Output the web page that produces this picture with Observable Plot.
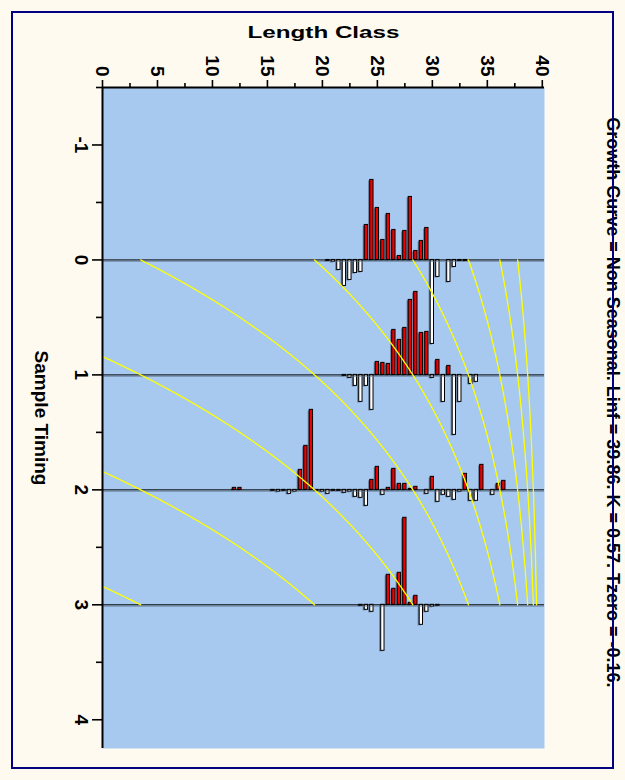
<!DOCTYPE html>
<html>
<head>
<meta charset="utf-8">
<script src="https://cdn.jsdelivr.net/npm/d3@7"></script>
<script src="https://cdn.jsdelivr.net/npm/@observablehq/plot@0.6"></script>
<style>
  html, body { margin: 0; padding: 0; background: #fffaf0; }
  #chart { position: relative; width: 625px; height: 780px; overflow: hidden; background: #fffaf0; }
  #border { position: absolute; left: 11px; top: 11px; width: 599px; height: 754px;
            border: 2px solid #000080; pointer-events: none; }
</style>
</head>
<body>
<div id="chart"><div id="border"></div></div>
<script>
// Von Bertalanffy growth parameters (non seasonal)
const Linf = 39.86;
const K = 0.57;
const tZero = -0.16;

// Sample timings (years) of the four length-frequency samples
const sampleTimes = [0, 1, 2, 3];

// Restructured length-frequency scores per sample (positive = peaks, negative = troughs)
const lengths0 = [20.5, 21, 21.5, 22, 22.5, 23, 23.5, 24, 24.5, 25, 25.5, 26, 26.5, 27, 27.5, 28, 28.5, 29, 29.5, 30, 30.5, 31.5, 32, 32.5, 33];
const scores0  = [-0.01, -0.02, -0.10, -0.26, -0.20, -0.13, -0.12, 0.35, 0.80, 0.52, 0.20, 0.46, 0.30, 0.04, 0.29, 0.63, 0.09, 0.19, 0.32, -0.84, -0.17, -0.22, -0.07, -0.01, -0.01];

const lengths1 = [22, 22.5, 23, 23.5, 24, 24.5, 25, 25.5, 26, 26.5, 27, 27.5, 28, 28.5, 29, 29.5, 30, 30.5, 31, 31.5, 32, 32.5, 33.5, 34];
const scores1  = [-0.01, -0.03, -0.11, -0.27, -0.11, -0.35, 0.13, 0.12, 0.11, 0.45, 0.35, 0.47, 0.75, 0.83, 0.42, 0.43, -0.03, 0.15, -0.27, 0.09, -0.60, -0.27, -0.09, -0.07];

const lengths2 = [12, 12.5, 15.5, 16, 16.5, 17, 17.5, 18, 18.5, 19, 19.5, 20, 20.5, 21, 21.5, 22, 22.5, 23, 23.5, 24, 24.5, 25, 25.5, 26, 26.5, 27, 27.5, 28, 28.5, 29.5, 30, 30.5, 31, 31.5, 32, 32.5, 33, 33.5, 34, 34.5, 35.5, 36, 36.5];
const scores2  = [0.02, 0.02, -0.01, -0.02, -0.01, -0.04, -0.02, 0.20, 0.44, 0.80, -0.01, -0.02, -0.04, -0.01, -0.01, -0.03, -0.02, -0.07, -0.08, -0.16, 0.10, 0.23, -0.05, 0.02, 0.21, 0.06, 0.06, 0.01, 0.03, -0.04, 0.13, -0.12, -0.05, -0.07, -0.10, -0.02, 0.16, -0.11, -0.11, 0.25, -0.05, 0.06, 0.09];

const lengths3 = [23.5, 24, 24.5, 25.5, 26, 26.5, 27, 27.5, 28, 28.5, 29, 29.5, 30, 30.5];
const scores3  = [-0.01, -0.05, -0.07, -0.46, 0.30, 0.16, 0.32, 0.87, 0.02, 0.09, -0.20, -0.07, -0.02, -0.01];

// Axis ticks
const lengthTicks = [0, 5, 10, 15, 20, 25, 30, 35, 40];
const lengthMinorTicks = [2.5, 7.5, 12.5, 17.5, 22.5, 27.5, 32.5, 37.5];
const timeTicks = [-1, 0, 1, 2, 3, 4];
const timeMinorTicks = [-1.5, -0.5, 0.5, 1.5, 2.5, 3.5];

// Cohorts (year offsets) traced by the growth curve
const cohorts = [3, 2, 1, 0, -1, -2, -3, -4, -5];

const xDomain = [0, 40.2];
const yDomain = [-1.5, 4.25];
const barScale = 0.87;   // timing units per unit score
const barHalf = 0.15;    // half bar width in length units

const samples = [
  {t: sampleTimes[0], L: lengths0, s: scores0},
  {t: sampleTimes[1], L: lengths1, s: scores1},
  {t: sampleTimes[2], L: lengths2, s: scores2},
  {t: sampleTimes[3], L: lengths3, s: scores3}
];
const bars = samples.flatMap(({t, L, s}) => L.map((len, i) => ({t, L: len, s: s[i]})));
const pos = bars.filter(d => d.s > 0);
const neg = bars.filter(d => d.s <= 0);

// Growth curve traces, from the first sample (or hatching) to the last sample
const tEnd = sampleTimes[sampleTimes.length - 1];
const vbgf = age => Linf * (1 - Math.exp(-K * (age - tZero)));
const curves = cohorts.flatMap(k => {
  const start = Math.max(sampleTimes[0], tZero + k);
  const pts = [];
  const n = Math.ceil((tEnd - start) / 0.01);
  for (let i = 0; i <= n; i++) {
    const t = Math.min(tEnd, start + i * 0.01);
    pts.push({k, t, L: vbgf(t - k)});
  }
  return pts;
});

const title = `Growth Curve = Non Seasonal. Linf = ${Linf}. K = ${K}. Tzero = ${tZero}.`;

const rectOpts = {
  x1: d => d.L - barHalf, x2: d => d.L + barHalf,
  y1: d => d.t, y2: d => d.t - d.s * barScale
};

const font = "'Liberation Sans', Arial, Helvetica, sans-serif";

const plot = Plot.plot({
  width: 625,
  height: 780,
  marginTop: 87,
  marginBottom: 32,
  marginLeft: 102,
  marginRight: 81,
  x: {domain: xDomain, axis: null},
  y: {domain: yDomain, reverse: true, axis: null},
  style: {background: "transparent", fontFamily: font, color: "black"},
  marks: [
    Plot.frame({fill: "#a7c9ef", stroke: "none"}),
    // bar shadows
    Plot.rect(bars, {...rectOpts, fill: "#44546a", fillOpacity: 0.7, dx: -1.5, dy: 1}),
    Plot.rect(pos, {...rectOpts, fill: "#ee0000", stroke: "black", strokeWidth: 1}),
    Plot.rect(neg, {...rectOpts, fill: "white", stroke: "black", strokeWidth: 1}),
    // sample baselines
    Plot.ruleY(sampleTimes, {stroke: "#5f6f85", strokeWidth: 1, strokeOpacity: 0.6, dy: 1.5}),
    Plot.ruleY(sampleTimes, {stroke: "black", strokeWidth: 1}),
    // growth curves
    Plot.line(curves, {x: "L", y: "t", z: "k", stroke: "#ffff00", strokeWidth: 1.3}),
    // axis lines
    Plot.ruleY([yDomain[0]], {stroke: "black", strokeWidth: 2}),
    Plot.ruleX([xDomain[0]], {stroke: "black", strokeWidth: 2}),
    // ticks
    Plot.axisX(lengthTicks, {anchor: "top", tickSize: 8, tickFormat: () => "", label: null, strokeWidth: 1.6}),
    Plot.axisX(lengthMinorTicks, {anchor: "top", tickSize: 5, tickFormat: () => "", label: null, strokeWidth: 1.6}),
    Plot.axisY(timeTicks, {anchor: "left", tickSize: 10, tickFormat: () => "", label: null, strokeWidth: 1.6}),
    Plot.axisY(timeMinorTicks, {anchor: "left", tickSize: 6, tickFormat: () => "", label: null, strokeWidth: 1.6}),
    // tick labels, turned a quarter
    Plot.text(lengthTicks, {x: d => d, text: d => String(d), frameAnchor: "top", dy: -11, rotate: 90,
      textAnchor: "end", lineAnchor: "middle", fontSize: 19, fontWeight: "bold", fill: "black"}),
    Plot.text(timeTicks, {y: d => d, text: d => String(d), frameAnchor: "left", dx: -21, rotate: 90,
      textAnchor: "middle", lineAnchor: "middle", fontSize: 19, fontWeight: "bold", fill: "black"}),
    // axis titles
    Plot.text(["Length Class"], {frameAnchor: "top", dy: -55, textAnchor: "middle", lineAnchor: "middle",
      fontSize: 17, fontWeight: "bold", fill: "black"}),
    Plot.text(["Sample Timing"], {frameAnchor: "left", dx: -61, rotate: 90, textAnchor: "middle", lineAnchor: "middle",
      fontSize: 19, fontWeight: "bold", fill: "black"}),
    Plot.text([title], {frameAnchor: "right", dx: 68.5, dy: -15.6, rotate: 90, textAnchor: "middle", lineAnchor: "middle",
      fontSize: 18, fontWeight: "bold", fill: "black"})
  ]
});

// Wider setting of the length axis title
d3.select(plot).selectAll("text")
  .filter(function() { return this.textContent === "Length Class"; })
  .attr("textLength", 152)
  .attr("lengthAdjust", "spacingAndGlyphs");

const chart = document.getElementById("chart");
chart.insertBefore(plot, chart.firstChild);
</script>
</body>
</html>
